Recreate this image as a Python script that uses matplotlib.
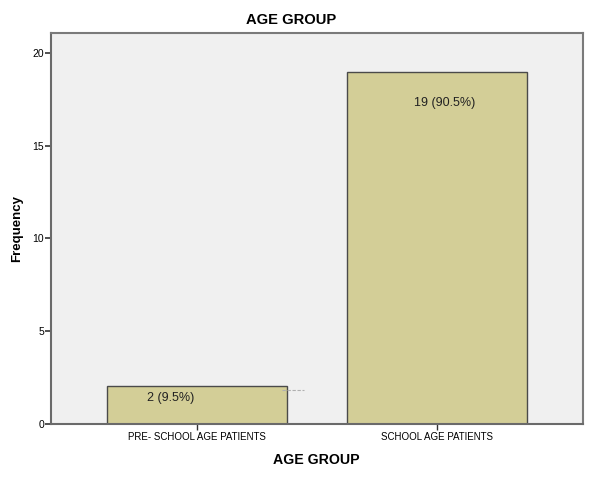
import matplotlib
matplotlib.use("Agg")
import matplotlib.pyplot as plt

categories = ["PRE- SCHOOL AGE PATIENTS", "SCHOOL AGE PATIENTS"]
counts = [2, 19]
bar_labels = ["2 (9.5%)", "19 (90.5%)"]
yticks = [0, 5, 10, 15, 20]

plt.rcParams['font.family'] = ['Liberation Sans', 'DejaVu Sans']

W, H = 600, 482
fig = plt.figure(figsize=(W / 100, H / 100), dpi=100)
left, right, top, bottom = 51, 583, 33, 423.5
ax = fig.add_axes([left / W, 1 - bottom / H, (right - left) / W, (bottom - top) / H])
ax.set_facecolor('#f0f0f0')

x = list(range(len(categories)))
ax.bar(x, counts, width=0.75, color='#d3ce97', edgecolor='#4a4a4a', linewidth=1.0, zorder=2)
ax.set_xlim(-0.608, 1.608)
ax.set_ylim(0, 21.1)
ax.set_yticks(yticks)
ax.set_xticks(x)
ax.set_xticklabels(categories, fontsize=7)
ax.tick_params(axis='y', labelsize=7.5, length=4, width=1.2, color='#333333', pad=1)
ax.tick_params(axis='x', length=4, width=1.0, color='#333333', pad=2)

for s in ax.spines.values():
    s.set_color('#7a7a7a')
    s.set_linewidth(1.5)
ax.spines['left'].set_color('#6a6a6a')
ax.spines['bottom'].set_color('#6a6a6a')

# value labels
offsets_x = [-0.11, 0.033]
offsets_y = [0.63, 1.7]
for xi, c, lab, ox, oy in zip(x, counts, bar_labels, offsets_x, offsets_y):
    ax.text(xi + ox, c - oy, lab, ha='center', va='center', fontsize=9, color='#222222', zorder=3)

# small faint dash near first bar
ax.plot([0.355, 0.445], [1.8, 1.8], color='#b0b0b0', lw=0.8, ls=(0, (3, 1.5)), zorder=3)

fig.text(291 / W, 1 - 20.5 / H, "AGE GROUP", ha='center', va='center', fontsize=10.6, fontweight='bold')
fig.text(316 / W, 1 - 460 / H, "AGE GROUP", ha='center', va='center', fontsize=10.2, fontweight='bold')
fig.text(17 / W, 1 - 229 / H, "Frequency", ha='center', va='center', rotation=90, fontsize=9.5, fontweight='bold')

fig.savefig("out.png", dpi=100, facecolor='white')
